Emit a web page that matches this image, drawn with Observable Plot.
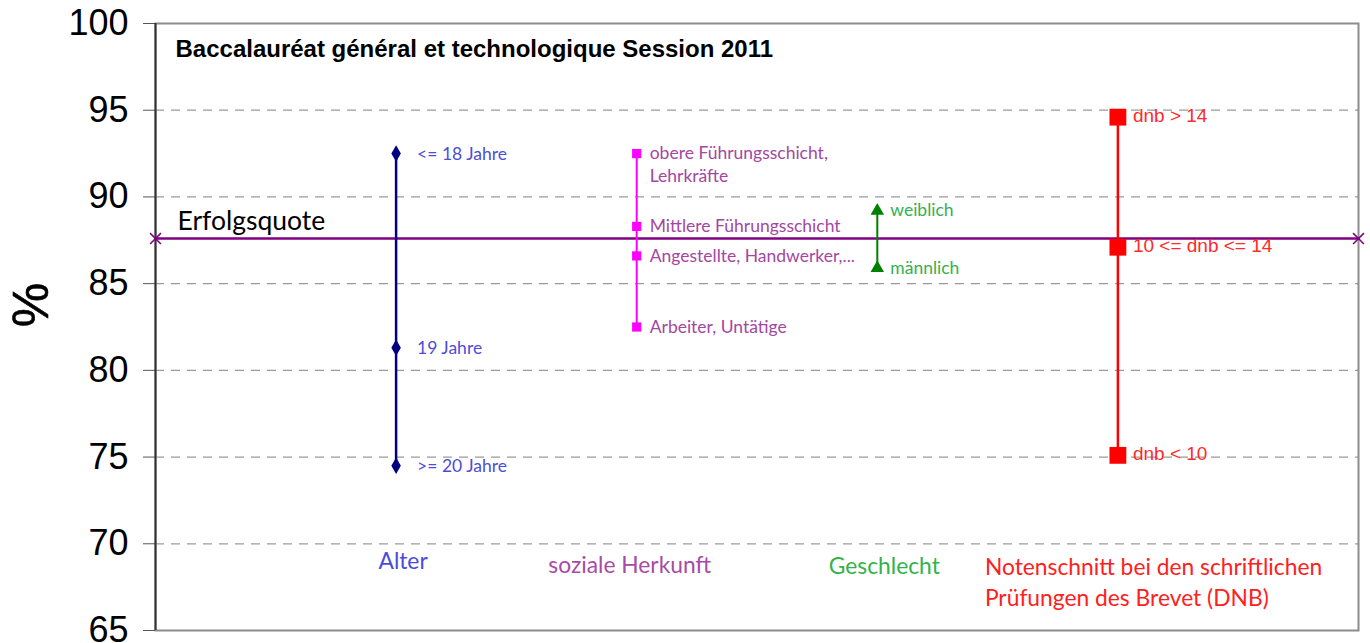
<!DOCTYPE html>
<html><head><meta charset="utf-8">
<script src="https://cdn.jsdelivr.net/npm/d3@7"></script>
<script src="https://cdn.jsdelivr.net/npm/@observablehq/plot@0.6"></script>
<style>body{margin:0;background:#fff}</style>
</head><body><div id="chart"></div>
<script>
// ---- data ----
const title = "Baccalauréat général et technologique Session 2011";
const yLabel = "%";
const yTicks = [65, 70, 75, 80, 85, 90, 95, 100];
const gridValues = [70, 75, 80, 85, 90, 95];
const overallLabel = "Erfolgsquote";
const overallRate = 87.6;

const categories = ["Alter", "soziale Herkunft", "Geschlecht", "Notenschnitt bei den schriftlichen\nPrüfungen des Brevet (DNB)"];
const categoryPos = [1, 2, 3, 4];
const categoryLabelLevel = 70;

const alterLabels = ["<= 18 Jahre", "19 Jahre", ">= 20 Jahre"];
const alterValues = [92.5, 81.3, 74.5];

const herkunftLabels = ["obere Führungsschicht,\nLehrkräfte", "Mittlere Führungsschicht", "Angestellte, Handwerker,...", "Arbeiter, Untätige"];
const herkunftValues = [92.5, 88.3, 86.6, 82.5];

const geschlechtLabels = ["weiblich", "männlich"];
const geschlechtValues = [89.2, 85.9];

const dnbLabels = ["dnb > 14", "10 <= dnb <= 14", "dnb < 10"];
const dnbValues = [94.6, 87.1, 75.1];

// ---- build ----
const mk = (labels, values, pos) => labels.map((l, i) => ({label: l, y: values[i], x: pos}));
const alter = mk(alterLabels, alterValues, categoryPos[0]);
const herkunft = mk(herkunftLabels, herkunftValues, categoryPos[1]);
const geschlecht = mk(geschlechtLabels, geschlechtValues, categoryPos[2]);
const dnb = mk(dnbLabels, dnbValues, categoryPos[3]);
const overall = [{x: 0, y: overallRate}, {x: 5, y: overallRate}];
const cats = categories.map((c, i) => ({label: c, x: categoryPos[i], y: categoryLabelLevel}));

const CAL = "Lato, 'Open Sans', sans-serif";
const ARIAL = "'Liberation Sans', Arial, sans-serif";

const chart = Plot.plot({
  width: 1370,
  height: 643,
  marginLeft: 155,
  marginRight: 12,
  marginTop: 23,
  marginBottom: 13,
  style: {fontFamily: ARIAL, background: "#fff", overflow: "visible"},
  x: {domain: [0, 5], axis: null},
  y: {domain: [65, 100], axis: null},
  marks: [
    Plot.ruleY(gridValues, {stroke: "#9a9a9a", strokeWidth: 1.3, strokeDasharray: "9,7"}),
    Plot.frame({stroke: "#8c8c8c", strokeWidth: 2}),
    Plot.axisY({ticks: yTicks, tickSize: 12, tickPadding: 15, fontSize: 36, fontFamily: ARIAL, fill: "#000", stroke: "#555", label: null}),
    Plot.ruleX([0], {stroke: "#333", strokeWidth: 2}),
    Plot.text([yLabel], {frameAnchor: "left", dx: -124, dy: -22, rotate: -90, textAnchor: "middle", fontSize: 50, fontFamily: ARIAL, fill: "#000", stroke: "#000", strokeWidth: 0.6}),
    Plot.text([title], {frameAnchor: "top-left", dx: 20, dy: 16, lineAnchor: "top", textAnchor: "start", fontSize: 24, fontWeight: "bold", fontFamily: ARIAL, fill: "#000"}),

    // overall line
    Plot.line(overall, {x: "x", y: "y", stroke: "#800080", strokeWidth: 2.5}),
    Plot.dot(overall, {x: "x", y: "y", symbol: "times", r: 5, stroke: "#800080", strokeWidth: 1.5}),
    Plot.text([overall[0]], {x: "x", y: "y", text: () => overallLabel, dx: 22, dy: -17, textAnchor: "start", fontSize: 26.5, fontFamily: CAL, fill: "#000"}),

    // Alter
    Plot.line(alter, {x: "x", y: "y", stroke: "#000080", strokeWidth: 2.5}),
    Plot.dot(alter, {x: "x", y: "y", symbol: "diamond", r: 5, fill: "#000080"}),
    Plot.text(alter, {x: "x", y: "y", text: "label", dx: 21, dy: 1, textAnchor: "start", fontSize: 17.5, fontFamily: CAL, fill: "#4d4dd8"}),

    // soziale Herkunft
    Plot.line(herkunft, {x: "x", y: "y", stroke: "#ff00ff", strokeWidth: 2}),
    Plot.dot(herkunft, {x: "x", y: "y", symbol: "square", r: 5.2, fill: "#ff00ff"}),
    Plot.text(herkunft, {x: "x", y: "y", text: "label", dx: 13, dy: -10, lineAnchor: "top", lineHeight: 1.27, textAnchor: "start", fontSize: 17.5, fontFamily: CAL, fill: "#a347a3"}),

    // Geschlecht
    Plot.line(geschlecht, {x: "x", y: "y", stroke: "#008000", strokeWidth: 2}),
    Plot.dot(geschlecht, {x: "x", y: "y", symbol: "triangle", r: 5, fill: "#008000"}),
    Plot.text(geschlecht, {x: "x", y: "y", text: "label", dx: 13, dy: 0, textAnchor: "start", fontSize: 17.5, fontFamily: CAL, fill: "#33b050"}),

    // DNB
    Plot.line(dnb, {x: "x", y: "y", stroke: "#ff0000", strokeWidth: 2.5}),
    Plot.dot(dnb, {x: "x", y: "y", symbol: "square", r: 9.5, fill: "#ff0000"}),
    Plot.text(dnb, {x: "x", y: "y", text: "label", dx: 15, dy: -1, textAnchor: "start", fontSize: 19, fontFamily: ARIAL, fill: "#ff2a2a"}),

    // category labels
    Plot.text([cats[0]], {x: "x", y: "y", text: "label", dx: 7, dy: 9, lineAnchor: "top", fontSize: 22.8, fontFamily: CAL, fill: "#4c4cd9"}),
    Plot.text([cats[1]], {x: "x", y: "y", text: "label", dx: -7, dy: 13, lineAnchor: "top", fontSize: 22.8, fontFamily: CAL, fill: "#a64ca6"}),
    Plot.text([cats[2]], {x: "x", y: "y", text: "label", dx: 7, dy: 14, lineAnchor: "top", fontSize: 22.8, fontFamily: CAL, fill: "#33b24c"}),
    Plot.text([cats[3]], {x: "x", y: "y", text: "label", dx: -133, dy: 9, lineAnchor: "top", lineHeight: 1.36, textAnchor: "start", fontSize: 22.8, fontFamily: CAL, fill: "#ff2020"})
  ]
});
document.getElementById("chart").appendChild(chart);
</script>
</body></html>
